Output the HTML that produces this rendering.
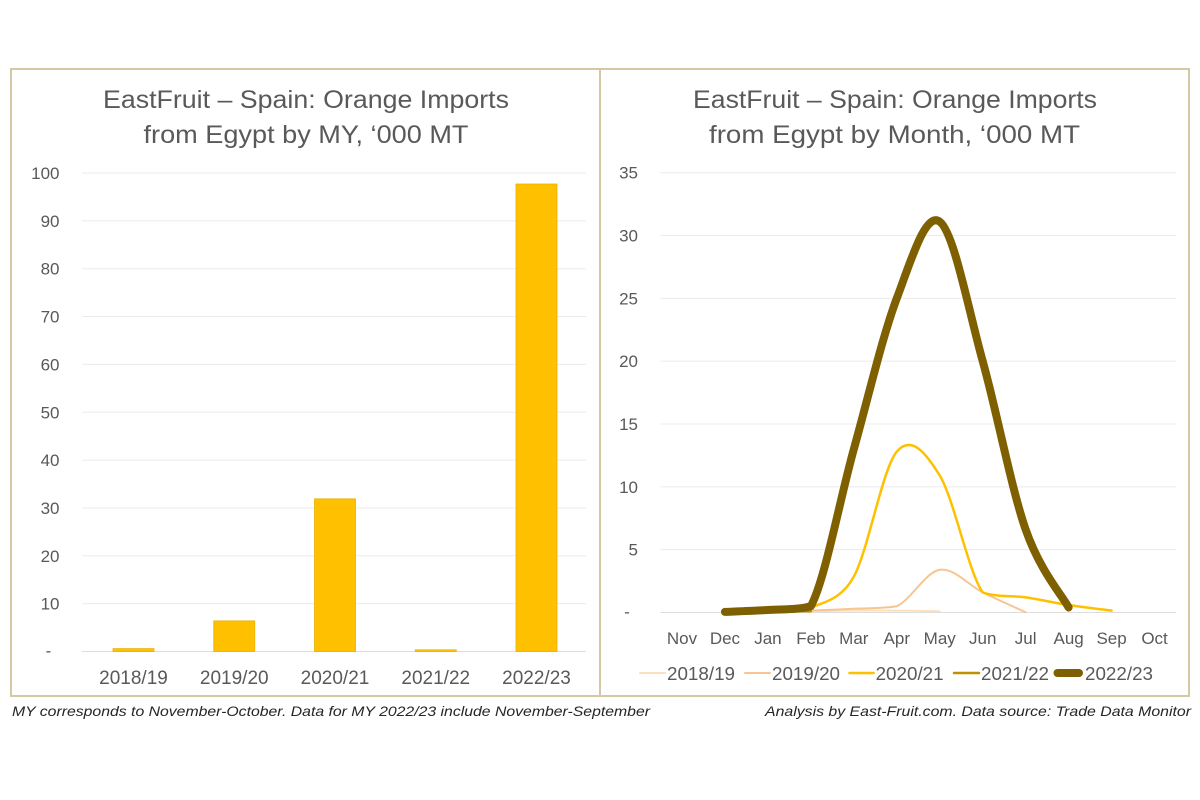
<!DOCTYPE html>
<html>
<head>
<meta charset="utf-8">
<style>
html,body{margin:0;padding:0;background:#fff;}
svg{display:block;}
text{font-family:"Liberation Sans",sans-serif;}
</style>
</head>
<body>
<svg id="c" width="1200" height="800" viewBox="0 0 1200 800" xmlns="http://www.w3.org/2000/svg">
<rect x="0" y="0" width="1200" height="800" fill="#fff"/>
<!-- panel borders -->
<rect x="11" y="69" width="589" height="627" fill="none" stroke="#D3C9A5" stroke-width="2"/>
<rect x="600" y="69" width="589" height="627" fill="none" stroke="#D3C9A5" stroke-width="2"/>

<!-- titles -->
<g fill="#595959" font-size="25">
<text x="103" y="108" textLength="406" lengthAdjust="spacingAndGlyphs">EastFruit – Spain: Orange Imports</text>
<text x="143.5" y="143" textLength="325" lengthAdjust="spacingAndGlyphs">from Egypt by MY, ‘000 MT</text>
<text x="693" y="108" textLength="404" lengthAdjust="spacingAndGlyphs">EastFruit – Spain: Orange Imports</text>
<text x="709" y="143" textLength="371" lengthAdjust="spacingAndGlyphs">from Egypt by Month, ‘000 MT</text>
</g>

<g id="left"></g>
<g id="right"></g>

<!-- footnotes -->
<g fill="#262626" font-size="14" font-style="italic">
<text x="12" y="716" textLength="638" lengthAdjust="spacingAndGlyphs">MY corresponds to November-October. Data for MY 2022/23 include November-September</text>
<text x="765" y="716" textLength="426" lengthAdjust="spacingAndGlyphs">Analysis by East-Fruit.com. Data source: Trade Data Monitor</text>
</g>
</svg>
<script>
(function(){
var NS="http://www.w3.org/2000/svg";
function el(parent,tag,attrs,txt){var e=document.createElementNS(NS,tag);for(var k in attrs)e.setAttribute(k,attrs[k]);if(txt!==undefined)e.textContent=txt;parent.appendChild(e);return e;}
// LEFT CHART
var L=document.getElementById('left');
var y0=651.5, sc=4.785;
for(var v=0;v<=100;v+=10){
  var y=y0-v*sc;
  el(L,'line',{x1:82,x2:586,y1:y,y2:y,stroke:v==0?'#DDDDDD':'#EBEBEB','stroke-width':1});
  if(v==0){el(L,'text',{x:48.5,y:y+5,'font-size':17,fill:'#595959','text-anchor':'middle'},'-');}
  else el(L,'text',{x:59.5,y:y+6,'font-size':17,fill:'#595959','text-anchor':'end'},String(v));
}
var bars=[0.6,6.4,31.9,0.35,97.7], labs=['2018/19','2019/20','2020/21','2021/22','2022/23'];
for(var i=0;i<5;i++){
  var cx=133.5+100.75*i, h=bars[i]*sc;
  el(L,'rect',{x:cx-20.5,y:y0-h,width:41,height:h,fill:'#FFC000',stroke:'#E9B100','stroke-width':0.8});
  el(L,'text',{x:cx,y:684,'font-size':19,fill:'#595959','text-anchor':'middle'},labs[i]);
}
// RIGHT CHART
var R=document.getElementById('right');
var ry0=612.5, rs=12.566, x0=660.5, st=42.96;
for(var v=0;v<=35;v+=5){
  var y=ry0-v*rs;
  el(R,'line',{x1:660.5,x2:1176,y1:y,y2:y,stroke:v==0?'#DDDDDD':'#EBEBEB','stroke-width':1});
  if(v==0){el(R,'text',{x:627,y:y+5,'font-size':17,fill:'#595959','text-anchor':'middle'},'-');}
  else el(R,'text',{x:638,y:y+6,'font-size':17,fill:'#595959','text-anchor':'end'},String(v));
}
var months=['Nov','Dec','Jan','Feb','Mar','Apr','May','Jun','Jul','Aug','Sep','Oct'];
for(var i=0;i<12;i++){
  el(R,'text',{x:x0+st*(i+0.5),y:644,'font-size':17,fill:'#595959','text-anchor':'middle'},months[i]);
}
function path(start,vals){
  var p=[];for(var i=0;i<vals.length;i++)p.push([x0+st*(start+i+0.5),ry0-vals[i]*rs]);
  var d='M'+p[0][0].toFixed(2)+','+p[0][1].toFixed(2);
  for(var i=0;i<p.length-1;i++){
    var a=p[Math.max(0,i-1)],b=p[i],c=p[i+1],e=p[Math.min(p.length-1,i+2)];
    var c1x=b[0]+(c[0]-a[0])/6,c1y=b[1]+(c[1]-a[1])/6;
    var c2x=c[0]-(e[0]-b[0])/6,c2y=c[1]-(e[1]-b[1])/6;
    var lowY=Math.max(b[1],c[1]);
    c1y=Math.min(c1y,lowY); c2y=Math.min(c2y,lowY);
    d+=' C'+c1x.toFixed(2)+','+c1y.toFixed(2)+' '+c2x.toFixed(2)+','+c2y.toFixed(2)+' '+c[0].toFixed(2)+','+c[1].toFixed(2);
  }
  return d;
}
var series=[
 {c:'#FBE0BE',w:2,s:3,v:[0.1,0.15,0.15,0.1]},
 {c:'#F6C591',w:2,s:3,v:[0.15,0.3,0.5,3.4,1.6,0.02]},
 {c:'#FFC000',w:2.5,s:3,v:[0.35,2.85,12.8,10.9,1.6,1.2,0.6,0.15]},
 {c:'#BF9000',w:2.5,s:1,v:[0.05,0.15,0.1]},
 {c:'#7F6000',w:8,s:1,v:[0.05,0.2,0.5,13,25,31.1,20,6.6,0.4]}
];
series.forEach(function(s){
  el(R,'path',{d:path(s.s,s.v),fill:'none',stroke:s.c,'stroke-width':s.w,'stroke-linecap':'round','stroke-linejoin':'round'});
});
// legend
var leg=[[640,665,667,'2018/19'],[745,770,772,'2019/20'],[849.5,873.6,875.6,'2020/21'],[954,979,981,'2021/22'],[1053.5,1083,1085,'2022/23']];
leg.forEach(function(l,i){
  var s=series[i];
  el(R,'line',{x1:l[0]+(i==4?4:0),x2:l[1]-(i==4?4:0),y1:673,y2:673,stroke:s.c,'stroke-width':s.w,'stroke-linecap':'round'});
  el(R,'text',{x:l[2],y:680,'font-size':18.5,fill:'#595959',textLength:68,lengthAdjust:'spacingAndGlyphs'},l[3]);
});
})();
</script>
</body>
</html>
